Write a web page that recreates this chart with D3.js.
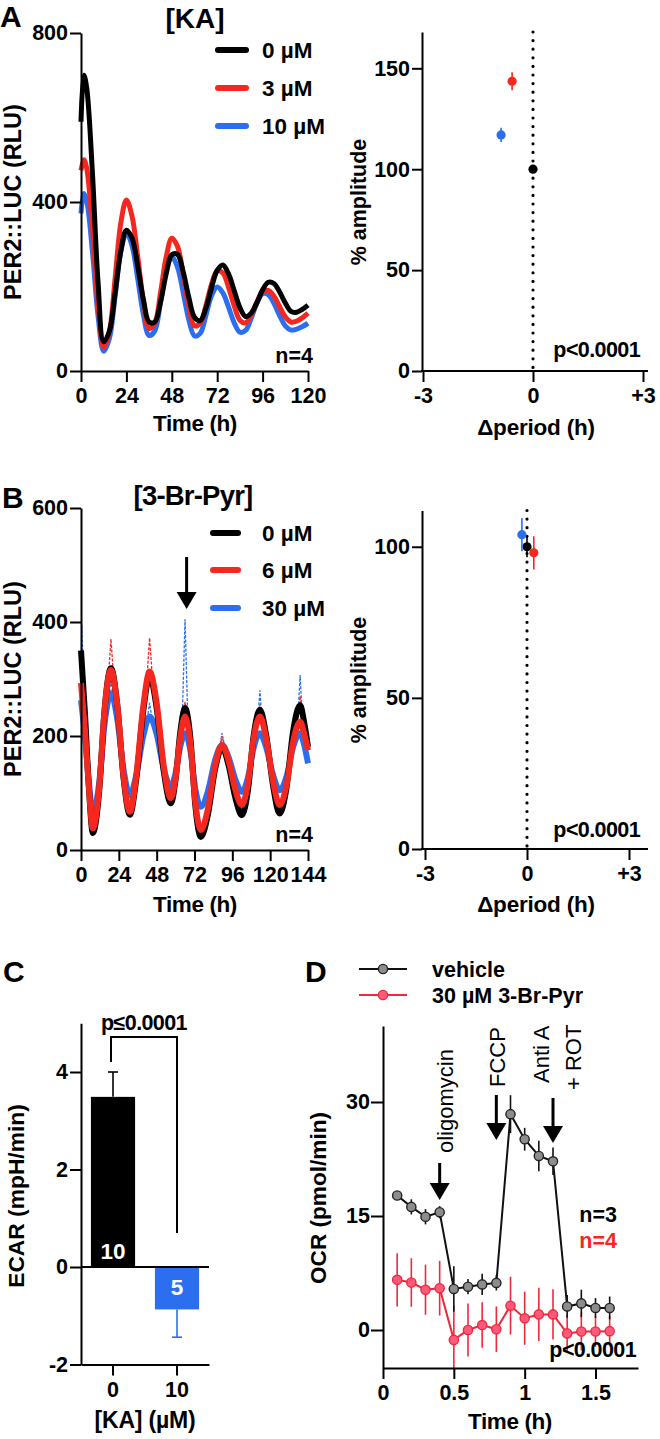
<!DOCTYPE html>
<html><head><meta charset="utf-8">
<script src="https://cdn.jsdelivr.net/npm/d3@7"></script>
<style>
body{margin:0;background:#fff;}
svg text{font-family:"Liberation Sans",Arial,Helvetica,sans-serif;}
</style></head><body>
<svg id="fig" width="660" height="1439"></svg>
<script>
// ---------------- DATA ----------------
// Panel A: PER2::LUC traces, [KA]
const timesA = [0,1.5,3,6,9,12,15,18,21,24,27,30,33,36,39,42,45,48,51,54,57,60,63,66,69,72,75,78,81,84,87,90,93,96,99,102,105,108,111,114,117,120];
const kaLabels = ["0 µM","3 µM","10 µM"];
const ka0  = [590,700,671,472,211,69,94,183,282,333,314,248,169,116,116,162,229,275,276,235,174,127,119,148,197,238,251,230,190,150,129,137,162,192,210,207,187,161,141,139,146,156];
const ka3  = [475,500,480,340,156,56,93,218,349,405,366,270,164,101,113,184,269,314,295,229,153,107,113,154,205,237,232,198,154,120,114,133,163,187,191,177,152,128,116,118,126,137];
const ka10 = [373,420,403,285,131,47,77,176,282,327,296,218,133,84,95,162,237,270,246,186,121,83,89,131,178,199,185,151,114,92,96,125,161,183,181,160,131,107,97,99,105,113];
const timeTicksA = [0,24,48,72,96,120];
const rluTicksA = [0,400,800];

// Panel A right: period / amplitude
const periodA = [0,-0.57,-0.87];
const ampA = [100,143.6,117];
const ampErrA = [1.5,4.5,3.5];
const ampTicksA = [0,50,100,150];
const periodTicks = [-3,0,3];

// Panel B: PER2::LUC traces, [3-Br-Pyr]
const brLabels = ["0 µM","6 µM","30 µM"];
const timesB = [0,2.5,5,7.5,11.5,15,19,23,27,31,35,39.5,43.5,48,52.5,57,60,63,66,69.5,72.5,76,80.5,85,89.5,93.5,98,102,106,109.5,113.5,117.5,122,126,130.5,134.5,139,141.5,144];
const br0  = [350,240,110,30,102,247,319,255,126,62,123,244,305,249,138,82,124,207,249,193,79,23,62,141,180,150,91,61,107,200,246,201,110,64,112,207,254,225,181];
const br6  = [293,210,110,38,108,247,316,254,129,67,129,252,313,258,147,91,127,198,234,184,85,35,72,147,184,158,105,79,118,195,234,195,118,79,116,189,225,205,175];
const br30 = [263,200,120,64,117,222,275,230,141,96,131,200,234,203,142,111,135,182,205,173,108,76,103,157,184,164,123,102,128,179,205,180,130,105,130,180,205,185,152];
const spikeTimesB = [0.5,19,43.5,66,89.5,113.5,139];
const spike6B  = [330,370,372,260,200,255,270];
const spike30B = [395,300,258,405,205,280,307];
const timeTicksB = [0,24,48,72,96,120,144];
const rluTicksB = [0,200,400,600];

// Panel B right
const periodB = [0,0.2,-0.15];
const ampB = [100,98,104];
const ampErrB = [3.5,5.5,5.5];
const ampTicksB = [0,50,100];

// Panel C: ECAR
const kaCats = ["0","10"];
const ecar = [3.49,-0.87];
const ecarErr = [0.51,0.57];
const ecarN = ["10","5"];
const ecarTicks = [-2,0,2,4];

// Panel D: OCR
const timesD = [0.1,0.2,0.3,0.4,0.5,0.6,0.7,0.8,0.9,1.0,1.1,1.2,1.3,1.4,1.5,1.6];
const ocrVehicle = [17.7,16.2,14.9,15.5,5.4,5.7,6.0,6.2,28.4,25.1,22.9,22.2,3.1,3.5,2.9,2.9];
const ocrVehicleErr = [0.5,1.0,1.0,0.8,3.0,1.0,1.4,1.0,2.5,1.5,2.0,1.8,1.5,1.8,1.3,1.5];
const ocrBr = [6.6,6.25,5.3,5.5,-1.3,0.0,0.65,0.1,3.2,1.55,2.05,2.05,-0.45,-0.2,-0.2,-0.15];
const ocrBrErr = [3.5,3.2,3.3,3.6,4.5,3.5,3.0,3.0,3.8,3.5,3.5,3.3,2.5,2.5,2.0,2.0];
const ocrTicks = [0,15,30];
const timeTicksD = [0,0.5,1,1.5];
const injTimes = [0.4,0.8,1.2];
const injLabels = [["oligomycin"],["FCCP"],["Anti A","+ ROT"]];
const legendD = ["vehicle","30 µM 3-Br-Pyr"];

// ---------------- STYLE ----------------
const BLACK="#000", RED="#f5281f", BLUE="#2b6ff0";
const PINK="#ff5a7c", RED2="#f0283a", GREY="#8c8c8c";
const TICK=21.5, LAB=22.5;
const svg = d3.select('#fig');

function text(x,y,s,o={}){
  return svg.append('text').attr('x',x).attr('y',y)
    .attr('font-size',o.fs||21).attr('font-weight',o.w||'bold')
    .attr('text-anchor',o.anchor||'start').attr('fill',o.fill||'#000')
    .attr('letter-spacing',o.ls||0).text(s);
}
function yLabel(cx,cy,s,fs){
  svg.append('text').attr('transform',`translate(${cx},${cy}) rotate(-90)`)
    .attr('text-anchor','middle').attr('dominant-baseline','central')
    .attr('font-size',fs).attr('font-weight','bold').text(s);
}
function axisG(axis,tx,ty,fs,keepDomain=true){
  const g = svg.append('g').attr('transform',`translate(${tx},${ty})`).call(axis);
  g.attr('font-family','"Liberation Sans",Arial,sans-serif').attr('font-size',fs).attr('font-weight','bold');
  g.select('.domain').attr('stroke','#000').attr('stroke-width',2);
  if(!keepDomain) g.select('.domain').remove();
  g.selectAll('.tick line').attr('stroke','#000').attr('stroke-width',2);
  g.selectAll('.tick text').attr('fill','#000');
  return g;
}
function hline(x1,x2,y,w=2,c='#000'){svg.append('line').attr('x1',x1).attr('x2',x2).attr('y1',y).attr('y2',y).attr('stroke',c).attr('stroke-width',w);}
function vline(x,y1,y2,w=2,c='#000'){svg.append('line').attr('x1',x).attr('x2',x).attr('y1',y1).attr('y2',y2).attr('stroke',c).attr('stroke-width',w);}
function arrowDown(x,yTop,yTip,headW,headH,w){
  vline(x,yTop,yTip-headH+2,w);
  svg.append('path').attr('d',`M${x-headW/2},${yTip-headH} L${x+headW/2},${yTip-headH} L${x},${yTip} Z`).attr('fill','#000');
}
function interp(ts,vs,t){
  const i = Math.min(Math.max(d3.bisectRight(ts,t),1),ts.length-1);
  const f = (t-ts[i-1])/(ts[i]-ts[i-1]);
  return vs[i-1]+(vs[i]-vs[i-1])*f;
}

// ---------------- PANEL A (left) ----------------
{
  const x = d3.scaleLinear().domain([0,120]).range([81,308]);
  const y = d3.scaleLinear().domain([0,800]).range([371,33]);
  const line = d3.line().x((d,i)=>x(timesA[i])).y(d=>y(d)).curve(d3.curveCatmullRom.alpha(0.5));
  [[ka10,BLUE],[ka3,RED],[ka0,BLACK]].forEach(([s,c])=>{
    svg.append('path').attr('d',line(s)).attr('fill','none').attr('stroke',c).attr('stroke-width',5).attr('stroke-linejoin','round');
  });
  axisG(d3.axisLeft(y).tickValues(rluTicksA).tickSize(11).tickPadding(2).tickSizeOuter(0),81,0,TICK);
  axisG(d3.axisBottom(x).tickValues(timeTicksA).tickSize(11).tickPadding(6).tickSizeOuter(0),0,371,TICK);
  yLabel(13,202,"PER2::LUC (RLU)",23.5);
  text(195,431,"Time (h)",{fs:LAB,anchor:'middle',ls:-0.4});
  text(0,27,"A",{fs:30});
  text(195,28,"[KA]",{fs:28,anchor:'middle'});
  const ly=[50,88,126], cols=[BLACK,RED,BLUE];
  kaLabels.forEach((l,i)=>{
    svg.append('line').attr('x1',218).attr('x2',246).attr('y1',ly[i]).attr('y2',ly[i]).attr('stroke',cols[i]).attr('stroke-width',6).attr('stroke-linecap','round');
    text(262,ly[i]+8,l,{fs:LAB});
  });
  text(313,363,"n=4",{fs:21.5,anchor:'end'});
}

// ---------------- SCATTER PANELS ----------------
function scatterPanel(periods,amps,errs,ampTicks,xr,yr,yTop,pY,cy){
  const x = d3.scaleLinear().domain([-3,3]).range(xr);
  const y = d3.scaleLinear().domain([0,yTop]).range(yr);
  svg.append('line').attr('x1',x(0)).attr('x2',x(0)).attr('y1',y(yTop)).attr('y2',y(0))
    .attr('stroke','#000').attr('stroke-width',3.2).attr('stroke-dasharray','0 8.6').attr('stroke-linecap','round');
  axisG(d3.axisLeft(y).tickValues(ampTicks).tickSize(10).tickPadding(2).tickSizeOuter(0),422,0,TICK);
  axisG(d3.axisBottom(x).tickValues(periodTicks).tickFormat(d=>d>0?'+'+d:String(d)).tickSize(11).tickPadding(6).tickSizeOuter(0),0,y(0),TICK,false);
  hline(421,648,y(0));
  const cols=[BLACK,RED,BLUE];
  periods.forEach((p,i)=>{
    vline(x(p),y(amps[i]+errs[i]),y(amps[i]-errs[i]),1.6,cols[i]);
    svg.append('circle').attr('cx',x(p)).attr('cy',y(amps[i])).attr('r',4.6).attr('fill',cols[i]);
  });
  text(640,pY,"p<0.0001",{fs:21.5,anchor:'end',ls:-0.6});
  yLabel(359,cy,"% amplitude",21.5);
  return {x,y};
}
{
  scatterPanel(periodA,ampA,ampErrA,ampTicksA,[423,643],[371,32],168,357,202);
  text(536,435,"Δperiod (h)",{fs:LAB,anchor:'middle',ls:-0.2});
}

// ---------------- PANEL B (left) ----------------
{
  const x = d3.scaleLinear().domain([0,144]).range([81,308]);
  const y = d3.scaleLinear().domain([0,600]).range([850,508]);
  const line = d3.line().x((d,i)=>x(timesB[i])).y(d=>y(d)).curve(d3.curveMonotoneX);
  const drawSpikes=(vals,base,c)=>{
    spikeTimesB.forEach((t,i)=>{
      const t0=Math.max(0,t-2.2), t1=Math.min(144,t+2.2);
      const pts=[[x(t0),y(interp(timesB,base,t0))],[x(t),y(vals[i])],[x(t1),y(interp(timesB,base,t1))]];
      svg.append('path').attr('d',d3.line()(pts)).attr('fill','none').attr('stroke',c).attr('stroke-width',1.3).attr('stroke-dasharray','3 1.5');
    });
  };
  drawSpikes(spike30B,br30,BLUE);
  drawSpikes(spike6B,br6,RED);
  [[br30,BLUE],[br0,BLACK],[br6,RED]].forEach(([s,c])=>{
    svg.append('path').attr('d',line(s)).attr('fill','none').attr('stroke',c).attr('stroke-width',6).attr('stroke-linejoin','round');
  });
  axisG(d3.axisLeft(y).tickValues(rluTicksB).tickSize(11).tickPadding(2).tickSizeOuter(0),81,0,TICK);
  axisG(d3.axisBottom(x).tickValues(timeTicksB).tickSize(11).tickPadding(6).tickSizeOuter(0),0,850,TICK);
  yLabel(13,679,"PER2::LUC (RLU)",23.5);
  text(195,912,"Time (h)",{fs:LAB,anchor:'middle',ls:-0.4});
  text(2,508,"B",{fs:30});
  text(193,505,"[3-Br-Pyr]",{fs:27.5,anchor:'middle',ls:-0.8});
  const ly=[533,570,608], cols=[BLACK,RED,BLUE];
  brLabels.forEach((l,i)=>{
    svg.append('line').attr('x1',213).attr('x2',238).attr('y1',ly[i]).attr('y2',ly[i]).attr('stroke',cols[i]).attr('stroke-width',6).attr('stroke-linecap','round');
    text(262,ly[i]+8,l,{fs:LAB});
  });
  arrowDown(x(67),557,609,20,17,3);
  text(313,842,"n=4",{fs:21.5,anchor:'end'});
}

// ---------------- PANEL B (right) ----------------
{
  scatterPanel(periodB,ampB,ampErrB,ampTicksB,[425,629],[849,510.5],112,837,680);
  text(536,912,"Δperiod (h)",{fs:LAB,anchor:'middle',ls:-0.2});
}

// ---------------- PANEL C ----------------
{
  const x = d3.scaleBand().domain(kaCats).range([81,209]).padding(0);
  const y = d3.scaleLinear().domain([-2,5]).range([1364.5,1023.25]);
  const bw = x.bandwidth()*0.69;
  const cols=[BLACK,BLUE];
  kaCats.forEach((c,i)=>{
    const cx = x(c)+x.bandwidth()/2;
    const v = ecar[i], e = ecarErr[i];
    const tip = v>=0? v+e : v-e;
    vline(cx,y(v),y(tip),1.6,cols[i]);
    hline(cx-5,cx+5,y(tip),1.6,cols[i]);
    svg.append('rect').attr('x',cx-bw/2).attr('width',bw)
      .attr('y',Math.min(y(v),y(0))).attr('height',Math.abs(y(v)-y(0))).attr('fill',cols[i]);
    svg.append('text').attr('x',cx).attr('y',v>=0? y(0)-8 : y(0)+28).attr('text-anchor','middle')
      .attr('font-size',22.5).attr('font-weight','bold').attr('fill','#fff').text(ecarN[i]);
  });
  hline(81,209,y(0));
  axisG(d3.axisLeft(y).tickValues(ecarTicks).tickFormat(String).tickSize(11).tickPadding(2).tickSizeOuter(0),81,0,TICK);
  axisG(d3.axisBottom(x).tickSize(11).tickPadding(6).tickSizeOuter(0),0,y(-2),TICK);
  const c0 = x("0")+x.bandwidth()/2-2, c1 = x("10")+x.bandwidth()/2;
  svg.append('path').attr('d',`M${c0},${1062} V1037 H${c1} V1233`).attr('fill','none').attr('stroke','#000').attr('stroke-width',2);
  text(144,1030,"p≤0.0001",{fs:21.5,anchor:'middle',ls:-0.6});
  yLabel(16,1196,"ECAR (mpH/min)",22.8);
  text(145,1428,"[KA] (µM)",{fs:23,anchor:'middle',ls:-0.2});
  text(3,982,"C",{fs:30});
}

// ---------------- PANEL D ----------------
{
  const x = d3.scaleLinear().domain([0,1.8]).range([383,638]);
  const y = d3.scaleLinear().domain([-5,40]).range([1368,1026]);
  const line = d3.line().x((d,i)=>x(timesD[i])).y(d=>y(d));
  const series = [
    {v:ocrBr,e:ocrBrErr,line:RED2,fill:PINK,stroke:RED2},
    {v:ocrVehicle,e:ocrVehicleErr,line:'#111',fill:GREY,stroke:'#222'}
  ];
  series.forEach(s=>{
    s.v.forEach((v,i)=>{
      vline(x(timesD[i]),y(Math.min(40,v+s.e[i])),y(Math.max(-5,v-s.e[i])),1.6,s.line);
    });
  });
  series.forEach(s=>{
    svg.append('path').attr('d',line(s.v)).attr('fill','none').attr('stroke',s.line).attr('stroke-width',2);
    svg.selectAll(null).data(s.v).enter().append('circle')
      .attr('cx',(d,i)=>x(timesD[i])).attr('cy',d=>y(d)).attr('r',4.6)
      .attr('fill',s.fill).attr('stroke',s.stroke).attr('stroke-width',1.4);
  });
  axisG(d3.axisLeft(y).tickValues(ocrTicks).tickSize(12).tickPadding(1).tickSizeOuter(0),383,0,TICK);
  axisG(d3.axisBottom(x).tickValues(timeTicksD).tickFormat(String).tickSize(11).tickPadding(6).tickSizeOuter(0),0,1368,TICK);
  yLabel(318,1198,"OCR (pmol/min)",22.6);
  text(510,1429,"Time (h)",{fs:LAB,anchor:'middle',ls:-0.4});
  text(305,982,"D",{fs:30});
  const arrowY = [[1163,1200],[1095,1140],[1098,1143]];
  injTimes.forEach((t,i)=>{ arrowDown(x(t),arrowY[i][0],arrowY[i][1],20,17,3); });
  const labX = [[445],[497],[541,573]], labY=[[1153],[1087],[1083,1090]];
  injLabels.forEach((ls,i)=>ls.forEach((l,j)=>{
    svg.append('text').attr('transform',`translate(${labX[i][j]},${labY[i][j]}) rotate(-90)`)
      .attr('dominant-baseline','central').attr('font-size',22).attr('font-weight','normal').text(l);
  }));
  text(617,1222,"n=3",{fs:21.5,anchor:'end'});
  text(617,1248,"n=4",{fs:21.5,anchor:'end',fill:RED});
  text(636,1357,"p<0.0001",{fs:21.5,anchor:'end',ls:-0.6});
  const ly=[969,995];
  [[ '#111',GREY,'#222'],[RED2,PINK,RED2]].forEach((c,i)=>{
    hline(359,407,ly[i],2,c[0]);
    svg.append('circle').attr('cx',383).attr('cy',ly[i]).attr('r',4.6).attr('fill',c[1]).attr('stroke',c[2]).attr('stroke-width',1.4);
    text(432,ly[i]+8,legendD[i],{fs:21.5});
  });
}
</script>
</body></html>
